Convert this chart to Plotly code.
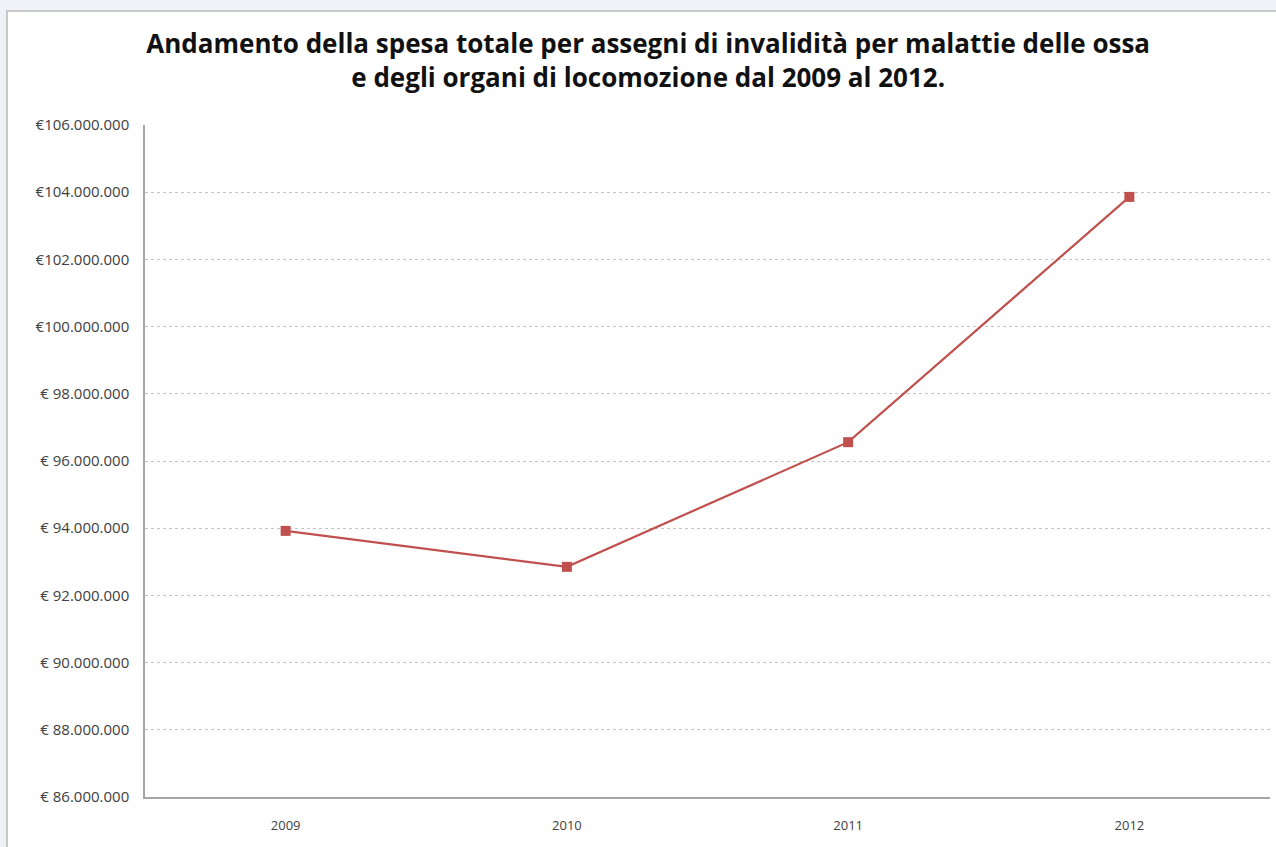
import plotly.graph_objects as go

years = ["2009", "2010", "2011", "2012"]
spesa = [93920000, 92850000, 96560000, 103860000]
tick_vals = [86000000, 88000000, 90000000, 92000000, 94000000, 96000000,
             98000000, 100000000, 102000000, 104000000, 106000000]
tick_text = ["€ 86.000.000", "€ 88.000.000", "€ 90.000.000", "€ 92.000.000",
             "€ 94.000.000", "€ 96.000.000", "€ 98.000.000", "€100.000.000",
             "€102.000.000", "€104.000.000", "€106.000.000"]
title_text = ("Andamento della spesa totale per assegni di invalidità per malattie delle ossa"
              "<br>e degli organi di locomozione dal 2009 al 2012.")

fig = go.Figure()
fig.add_trace(go.Scatter(
    x=years, y=spesa, mode="lines+markers",
    line=dict(color="#c0504d", width=2.2),
    marker=dict(symbol="square", size=10, color="#c0504d"),
    showlegend=False, hoverinfo="x+y"))

fig.update_layout(
    width=1276, height=847,
    margin=dict(l=145, r=6, t=125, b=50),
    paper_bgcolor="#eef2f7", plot_bgcolor="white",
    title=dict(text=title_text, x=0.508, xanchor="center", y=0.937, yanchor="middle",
               font=dict(family="Open Sans", size=26, color="#111111", weight="bold")),
    xaxis=dict(type="category", range=[-0.5, 3.5], showgrid=False,
               showline=True, linecolor="#a6a6a6", linewidth=1.5,
               ticks="", ticklabelstandoff=16,
               tickfont=dict(family="Open Sans", size=13, color="#404040")),
    yaxis=dict(range=[86000000, 106000000], tickvals=tick_vals, ticktext=tick_text,
               showgrid=True, gridcolor="#c4c4c4", gridwidth=1, griddash="dot",
               showline=True, linecolor="#a6a6a6", linewidth=1.5, zeroline=False,
               ticks="", ticklabelstandoff=11,
               tickfont=dict(family="Open Sans", size=15, color="#404040")),
    shapes=[dict(type="rect", xref="paper", yref="paper",
                 x0=-138/1125, x1=1.2, y0=-0.3, y1=1 + 114/672,
                 line=dict(color="#c8c8c8", width=2), fillcolor="white",
                 layer="below")],
)

fig.write_html("out.html")
